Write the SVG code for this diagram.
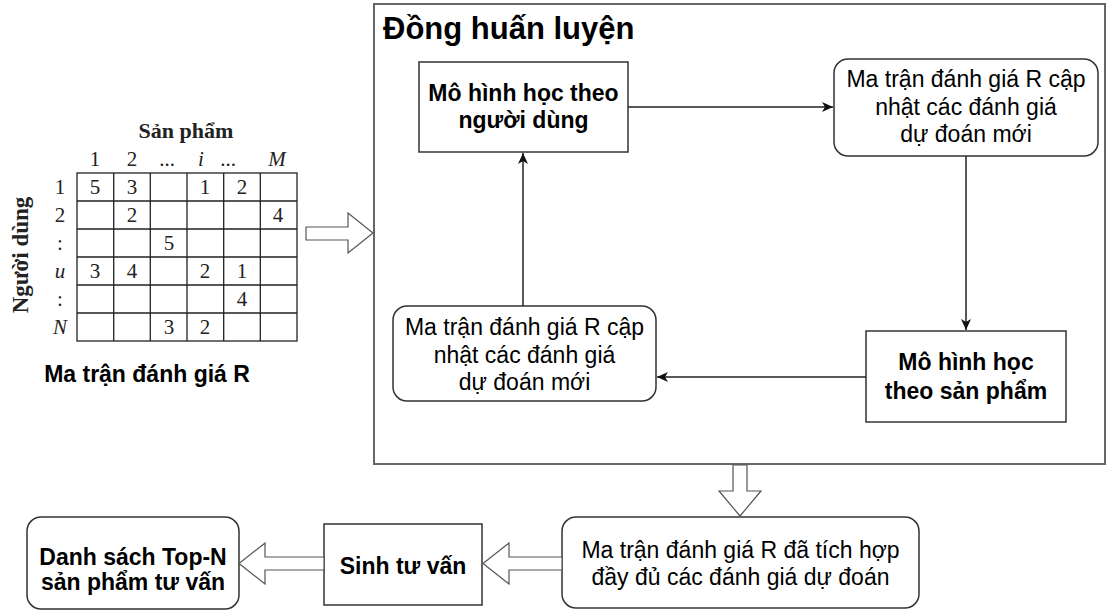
<svg xmlns="http://www.w3.org/2000/svg" width="1107" height="612" viewBox="0 0 1107 612">
<style>
.box{fill:#fff;stroke:#333;stroke-width:1.5}
.cont{fill:#fff;stroke:#666;stroke-width:2}
.hollow{fill:#fff;stroke:#555;stroke-width:1.2;stroke-linejoin:miter}
.edge{fill:none;stroke:#222;stroke-width:1.5}
.t{font-family:"Liberation Sans",Arial,sans-serif;font-size:23px;fill:#000;text-anchor:middle}
.b{font-weight:bold}
.title{font-family:"Liberation Sans",Arial,sans-serif;font-size:31px;font-weight:bold;fill:#000;text-anchor:start}
.s{font-family:"Liberation Serif","Times New Roman",serif;fill:#222;text-anchor:middle}
.grid{fill:none;stroke:#222;stroke-width:1.3}
</style>
<defs>
<marker id="ah" markerWidth="12" markerHeight="10" refX="11" refY="5" orient="auto" markerUnits="userSpaceOnUse">
<path d="M0,0 L11,5 L0,10 L3,5 Z" fill="#111"/>
</marker>
</defs>

<g id="matrix">
<text class="s" x="186" y="138" font-size="22" font-weight="bold">Sản phẩm</text>
<g font-size="21">
<text class="s" x="95" y="166">1</text>
<text class="s" x="132" y="166">2</text>
<text class="s" x="167" y="166">...</text>
<text class="s" x="201" y="166" font-style="italic">i</text>
<text class="s" x="228" y="166">...</text>
<text class="s" x="277" y="166" font-style="italic">M</text>
<text class="s" x="60" y="194">1</text>
<text class="s" x="60" y="222">2</text>
<text class="s" x="60" y="250">:</text>
<text class="s" x="60" y="278" font-style="italic">u</text>
<text class="s" x="60" y="306">:</text>
<text class="s" x="60" y="334" font-style="italic">N</text>
</g>
<text class="s" transform="translate(28,255) rotate(-90)" font-size="23" font-weight="bold">Người dùng</text>
<rect class="grid" x="77" y="173" width="220" height="168"/>
<path class="grid" d="M113.7,173V341M150.3,173V341M187,173V341M223.7,173V341M260.3,173V341M77,201H297M77,229H297M77,257H297M77,285H297M77,313H297"/>
<g font-size="21">
<text class="s" x="95" y="194">5</text><text class="s" x="132" y="194">3</text><text class="s" x="205" y="194">1</text><text class="s" x="242" y="194">2</text>
<text class="s" x="132" y="222">2</text><text class="s" x="278" y="222">4</text>
<text class="s" x="169" y="250">5</text>
<text class="s" x="95" y="278">3</text><text class="s" x="132" y="278">4</text><text class="s" x="205" y="278">2</text><text class="s" x="242" y="278">1</text>
<text class="s" x="242" y="306">4</text>
<text class="s" x="169" y="334">3</text><text class="s" x="205" y="334">2</text>
</g>
<text class="t b" x="147" y="382">Ma trận đánh giá R</text>
</g>

<g id="cotraining">
<rect class="cont" x="374" y="4" width="731" height="460"/>
<text class="title" x="383" y="39">Đồng huấn luyện</text>
</g>

<g id="user-model">
<rect class="box" x="419" y="62" width="209" height="90"/>
<text class="t b" x="523.5" y="101">Mô hình học theo</text>
<text class="t b" x="523.5" y="128">người dùng</text>
</g>

<g id="matrix-update-1">
<rect class="box" x="834" y="59" width="264" height="97" rx="14"/>
<text class="t" x="966" y="87">Ma trận đánh giá R cập</text>
<text class="t" x="966" y="115">nhật các đánh giá</text>
<text class="t" x="966" y="142">dự đoán mới</text>
</g>

<g id="item-model">
<rect class="box" x="866" y="331" width="200" height="91"/>
<text class="t b" x="966" y="370">Mô hình học</text>
<text class="t b" x="966" y="399">theo sản phẩm</text>
</g>

<g id="matrix-update-2">
<rect class="box" x="393" y="306" width="263" height="95" rx="14"/>
<text class="t" x="524.5" y="335">Ma trận đánh giá R cập</text>
<text class="t" x="524.5" y="363">nhật các đánh giá</text>
<text class="t" x="524.5" y="390">dự đoán mới</text>
</g>

<g id="full-matrix">
<rect class="box" x="562" y="517" width="357" height="91" rx="14"/>
<text class="t" x="740.5" y="558">Ma trận đánh giá R đã tích hợp</text>
<text class="t" x="740.5" y="585">đầy đủ các đánh giá dự đoán</text>
</g>

<g id="recommend">
<rect class="box" x="324" y="524" width="158" height="81"/>
<text class="t b" x="403" y="574">Sinh tư vấn</text>
</g>

<g id="topn">
<rect class="box" x="27" y="517" width="212" height="92" rx="14"/>
<text class="t b" x="133" y="565">Danh sách Top-N</text>
<text class="t b" x="133" y="590">sản phẩm tư vấn</text>
</g>

<g id="connectors">
<path class="edge" d="M628,107H833" marker-end="url(#ah)"/>
<path class="edge" d="M966,156V330" marker-end="url(#ah)"/>
<path class="edge" d="M866,377H657" marker-end="url(#ah)"/>
<path class="edge" d="M523,306V153" marker-end="url(#ah)"/>
<polygon class="hollow" points="306,227 348,227 348,213 373,233 348,253 348,240 306,240"/>
<polygon class="hollow" points="733,465 747,465 747,491 761,491 740,516 719,491 733,491"/>
<polygon class="hollow" points="562,557 509,557 509,543 483,563.5 509,584 509,570 562,570"/>
<polygon class="hollow" points="324,557 265,557 265,543 239,563.5 265,584 265,570 324,570"/>
</g>
</svg>
